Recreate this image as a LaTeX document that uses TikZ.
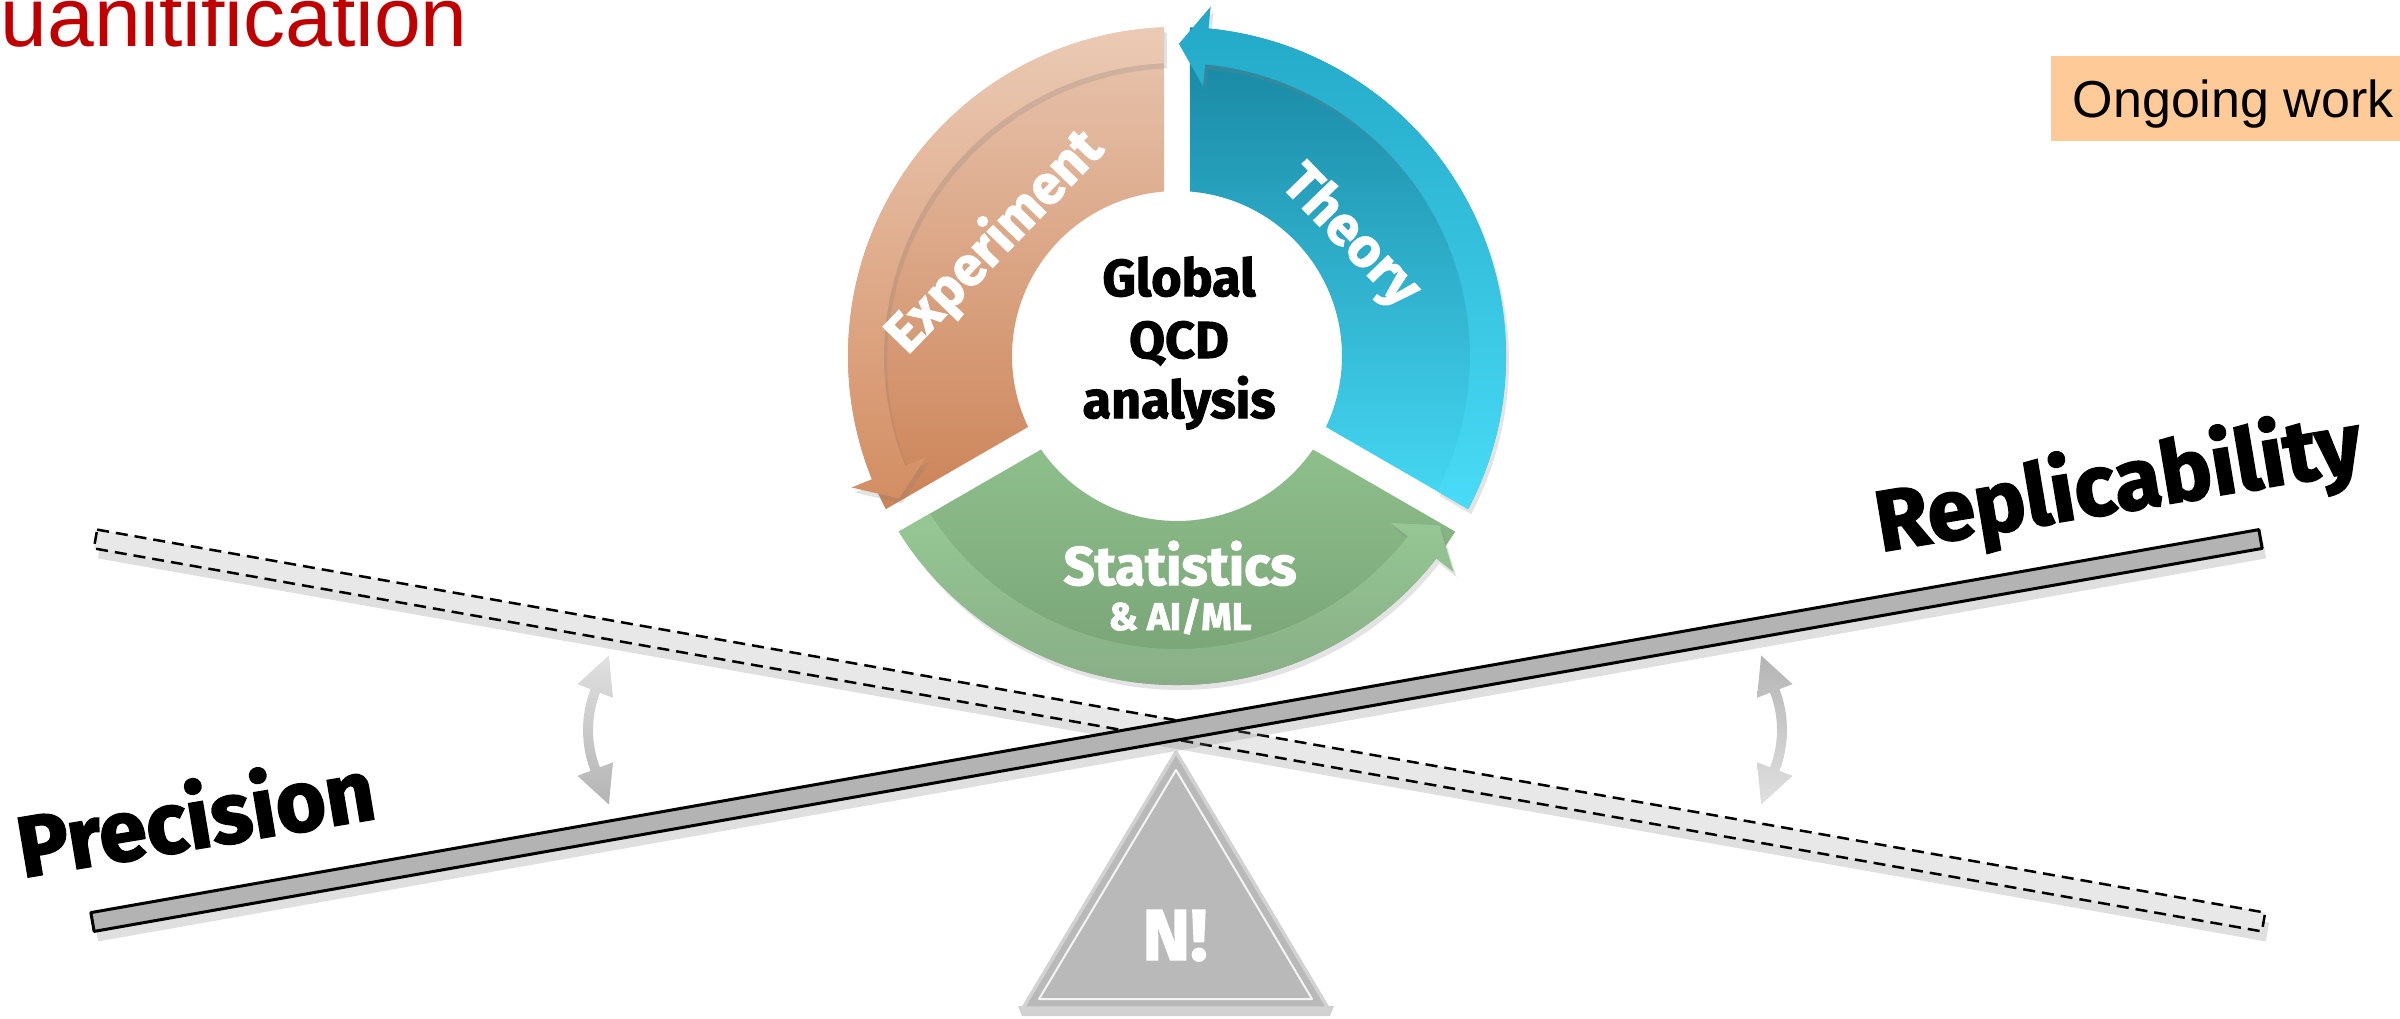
\documentclass[tikz,border=0pt]{standalone}
\usepackage{fontspec}
\setmainfont{Liberation Sans}
\newfontfamily\heavyfont{Fira Sans}[BoldFeatures={FakeBold=2}]
\usetikzlibrary{calc,shadows}

\definecolor{titlered}{HTML}{C00000}
\definecolor{ongoing}{HTML}{FDCA98}
\definecolor{expTop}{HTML}{E8C5AF}
\definecolor{expBot}{HTML}{CC8357}
\definecolor{expBandTop}{HTML}{EBCAB5}
\definecolor{expBandBot}{HTML}{D38E63}
\definecolor{thTop}{HTML}{1784A0}
\definecolor{thBot}{HTML}{46D9F5}
\definecolor{thBandTop}{HTML}{22A8C6}
\definecolor{thBandBot}{HTML}{49DBF7}
\definecolor{stTop}{HTML}{8EBF8B}
\definecolor{stBot}{HTML}{739C71}
\definecolor{stBandTop}{HTML}{96C894}
\definecolor{stBandBot}{HTML}{88AD86}
\definecolor{barGray}{HTML}{B3B3B3}
\definecolor{barLight}{HTML}{E8E8E8}
\definecolor{swingLight}{HTML}{E0E0E0}
\definecolor{swingDark}{HTML}{B4B4B4}
\definecolor{triFace}{HTML}{B9B9B9}
\definecolor{triRim}{HTML}{D2D2D2}

\tikzset{
  heavy/.style={font={\heavyfont\bfseries\fontsize{#1}{#1}\selectfont}, inner sep=0pt},
  plain/.style={font={\fontsize{#1}{#1}\selectfont}, inner sep=0pt},
  bandshadow/.style={drop shadow={shadow xshift=0.3mm, shadow yshift=-0.5mm, opacity=0.22}},
  barshadow/.style={drop shadow={shadow xshift=0.4mm, shadow yshift=-1.0mm, opacity=0.25}},
  solidbar/.style={fill=barGray, draw=black, line width=0.3mm, line join=round},
  dashbar/.style={fill=barLight, draw=black, line width=0.25mm, dash pattern=on 1.2mm off 0.7mm},
}

\begin{document}
\begin{tikzpicture}[x=0.1mm,y=0.1mm]
\useasboundingbox (0,0) rectangle (2400,-1018);

% title line (upper part lies above the page)
\node[plain=23.9pt, text=titlered, anchor=base west] (title) at (0,-46) {uanitification};

% status tag
\fill[ongoing] (2051,-56) rectangle (2420,-141);
\node[plain=14.8pt, anchor=base west] (ongo) at (2072,-117) {Ongoing work};

% ---------- the analysis cycle ----------
\coordinate (C) at (1177,-356);

% Experiment sector and arrow
\shade[top color=expTop, bottom color=expBot]
  ($(C)+(92.26:329)$) arc[start angle=92.26, end angle=207.74, radius=329]
  -- ($(C)+(205.48:165)$) arc[start angle=205.48, end angle=94.52, radius=165] -- cycle;
\shade[bandshadow, top color=expBandTop, bottom color=expBandBot]
  ($(C)+(92.26:329)$) arc[start angle=92.26, end angle=202, radius=329]
  -- ($(C)+(202:351)$) -- ($(C)+(202:311)+(292:28)$) -- ($(C)+(202:271)$)
  -- ($(C)+(202:293)$) arc[start angle=202, end angle=92.54, radius=293] -- cycle;

% Theory sector and arrow
\shade[top color=thTop, bottom color=thBot]
  ($(C)+(332.26:329)$) arc[start angle=332.26, end angle=447.74, radius=329]
  -- ($(C)+(445.48:165)$) arc[start angle=445.48, end angle=334.52, radius=165] -- cycle;
\shade[bandshadow, top color=thBandTop, bottom color=thBandBot]
  ($(C)+(332.26:329)$) arc[start angle=332.26, end angle=444.5, radius=329]
  -- ($(C)+(444.5:351)$) -- ($(C)+(444.5:311)+(174.5:28)$) -- ($(C)+(444.5:271)$)
  -- ($(C)+(444.5:293)$) arc[start angle=444.5, end angle=332.54, radius=293] -- cycle;

% Statistics sector and arrow
\shade[top color=stTop, bottom color=stBot]
  ($(C)+(212.26:329)$) arc[start angle=212.26, end angle=327.74, radius=329]
  -- ($(C)+(325.48:165)$) arc[start angle=325.48, end angle=214.52, radius=165] -- cycle;
\shade[bandshadow, top color=stBandTop, bottom color=stBandBot]
  ($(C)+(212.26:329)$) arc[start angle=212.26, end angle=322, radius=329]
  -- ($(C)+(322:351)$) -- ($(C)+(322:311)+(52:28)$) -- ($(C)+(322:271)$)
  -- ($(C)+(322:293)$) arc[start angle=322, end angle=212.54, radius=293] -- cycle;

% cycle labels
\node[heavy=14.8pt, anchor=base] (glob1) at (1179,-296) {Global};
\node[heavy=14.8pt, anchor=base] (glob2) at (1179,-358) {QCD};
\node[heavy=14.8pt, anchor=base] (glob3) at (1179,-418) {analysis};
\node[heavy=15.5pt, text=white, rotate=46] (exptext) at (995,-242) {Experiment};
\node[heavy=15.5pt, text=white, rotate=-46] (thtext) at (1350,-237) {Theory};
\node[heavy=15.5pt, text=white, anchor=base] (sttext) at (1180,-585) {Statistics};
\node[heavy=11pt, text=white, anchor=base] (mltext) at (1180,-630) {\& AI/ML};

% ---------- the seesaw ----------
% dashed (previous) position
\draw[dashbar, barshadow] (97.15,-529.6) -- (2265.15,-912.6) -- (2261.85,-931.4) -- (93.85,-548.4) -- cycle;
% solid (current) position
\draw[solidbar, barshadow] (90.85,-912.6) -- (2258.85,-529.6) -- (2262.15,-548.4) -- (94.15,-931.4) -- cycle;

% fulcrum
\fill[black, opacity=0.18] (1018,-1006) -- (1334,-1006) -- (1330,-1016) -- (1022,-1016) -- cycle;
\draw[fill=triFace, draw=triRim, line width=0.35mm, line join=round]
  (1176,-752) -- (1328,-1008) -- (1023,-1008) -- cycle;
\draw[white, opacity=0.85, line width=0.2mm, line join=round]
  (1176,-770) -- (1312,-999) -- (1039,-999) -- cycle;
\node[heavy=20.5pt, text=white, anchor=base] (nfact) at (1175,-960) {N!};

% swing arrows
\coordinate (LA) at (697,-730);
\shade[top color=swingLight, bottom color=swingDark]
  ($(LA)+(159:114)$) arc[start angle=159, end angle=201, radius=114]
  -- ($(LA)+(201:128)$) -- ($(LA)+(201:109)+(-69:38)$) -- ($(LA)+(201:90)$)
  -- ($(LA)+(201:104)$) arc[start angle=201, end angle=159, radius=104]
  -- ($(LA)+(159:90)$) -- ($(LA)+(159:109)+(69:38)$) -- ($(LA)+(159:128)$) -- cycle;
\coordinate (RA) at (1673,-730);
\shade[top color=swingDark, bottom color=swingLight]
  ($(RA)+(21:114)$) arc[start angle=21, end angle=-21, radius=114]
  -- ($(RA)+(-21:128)$) -- ($(RA)+(-21:109)+(-111:38)$) -- ($(RA)+(-21:90)$)
  -- ($(RA)+(-21:104)$) arc[start angle=-21, end angle=21, radius=104]
  -- ($(RA)+(21:90)$) -- ($(RA)+(21:109)+(111:38)$) -- ($(RA)+(21:128)$) -- cycle;

% end labels
\node[heavy=24.5pt, anchor=base west, rotate=9.5] (prec) at (22,-878) {Precision};
\node[heavy=24.5pt, anchor=base west, rotate=9.5] (repl) at (1880,-552) {Replicability};

\end{tikzpicture}
\end{document}
